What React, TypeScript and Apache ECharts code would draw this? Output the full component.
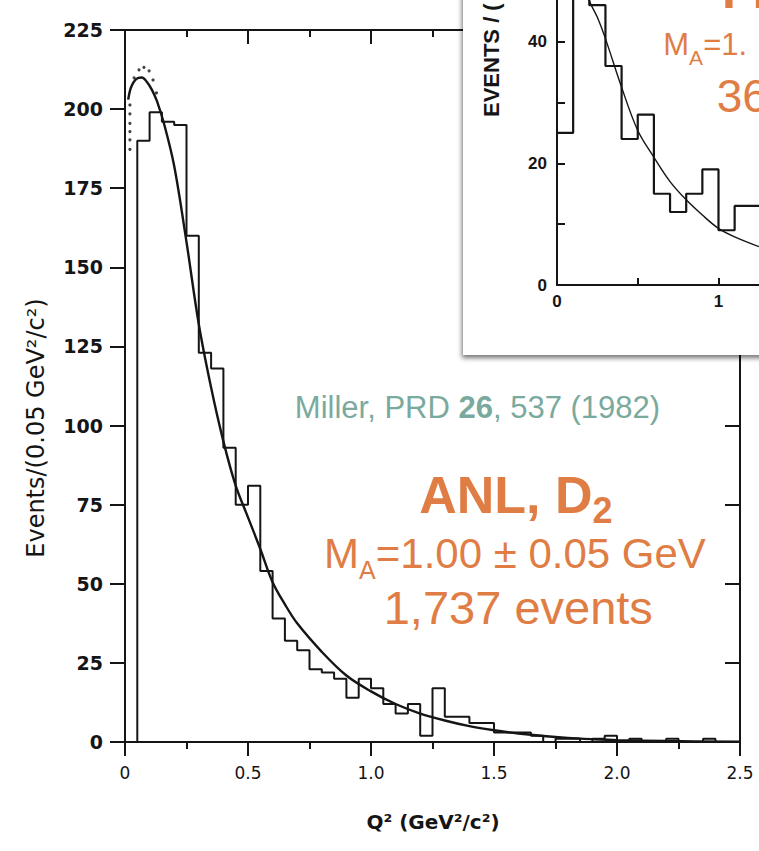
import React, { useEffect, useRef } from "react";
import * as echarts from "echarts";

// ---------- Main histogram (ANL, D2) ----------
const BIN_WIDTH = 0.05; // GeV^2 per bin
// events per bin, bins starting at 0.00, 0.05, 0.10 ... 2.45
const mainCounts = [
  0, 190, 199, 196, 195, 160, 123, 118, 93, 75,
  81, 54, 39, 32, 29, 23, 22, 20, 14, 20,
  17, 12, 9, 12, 2, 17, 8, 8, 6, 6,
  3, 3, 3, 2, 0, 1, 1, 0, 1, 2,
  0, 1, 0, 0, 1, 0, 0, 1, 0, 0,
];
// fitted curve: [Q2, events]
const mainCurve: [number, number][] = [
  [0.013, 203], [0.025, 207], [0.045, 209.5], [0.068, 210], [0.09, 208.5],
  [0.11, 206], [0.13, 202.5], [0.16, 195], [0.2, 182], [0.25, 158],
  [0.3, 132], [0.35, 112], [0.4, 95], [0.45, 81], [0.5, 71],
  [0.55, 61], [0.6, 50.5], [0.65, 43.5], [0.7, 37.5], [0.8, 28.5],
  [0.9, 21], [1.0, 16], [1.1, 12], [1.2, 9], [1.3, 6.8],
  [1.4, 5], [1.5, 3.7], [1.6, 2.7], [1.7, 1.9], [1.8, 1.3],
  [1.9, 0.9], [2.0, 0.6], [2.2, 0.3], [2.5, 0.1],
];
// dotted curve (dots) near the peak
const dottedCurve: [number, number][] = [
  [0.02, 187.3], [0.02, 190.3], [0.02, 192.9], [0.02, 195.5], [0.02, 198.5],
  [0.02, 201.3], [0.037, 209.9], [0.057, 212.4], [0.077, 213.2], [0.098, 212.1],
  [0.114, 209.2], [0.128, 205.1],
];
const xTickLabels = ["0", "0.5", "1.0", "1.5", "2.0", "2.5"];
const yTickLabels = ["0", "25", "50", "75", "100", "125", "150", "175", "200", "225"];

// ---------- Inset histogram (FNAL, D2) ----------
const INSET_BIN_WIDTH = 0.1;
const insetCounts = [25, 56, 46, 36, 24, 28, 15, 12, 15, 19, 9, 13, 13];
const insetCurve: [number, number][] = [
  [0.18, 49.5], [0.196, 47], [0.25, 44], [0.3, 40.5], [0.4, 32.5],
  [0.5, 25.4], [0.6, 21], [0.7, 17], [0.8, 14], [0.9, 11.5],
  [1.0, 9.3], [1.1, 7.9], [1.25, 6.3],
];
// only the labels that fall inside the picture
const insetXTickLabels = ["0", "1"];
const insetYTickLabels = ["0", "20", "40"];

const INK = "#151515";
const ORANGE = "#E07D45";
const TEAL = "#79AA9D";
const SANS = '"Liberation Sans", Arial, sans-serif';

function stepData(counts: number[], width: number): [number, number][] {
  const pts: [number, number][] = counts.map((c, i) => [+(i * width).toFixed(4), c]);
  pts.push([+(counts.length * width).toFixed(4), 0]);
  return pts;
}

let measureCtx: CanvasRenderingContext2D | null = null;
function measure(text: string, font: string): number {
  if (!measureCtx) measureCtx = document.createElement("canvas").getContext("2d");
  if (!measureCtx) return text.length * 10;
  measureCtx.font = font;
  return measureCtx.measureText(text).width;
}

type Seg = { text: string; size: number; bold?: boolean; dy?: number };
// build text pieces on one baseline; centre (cx) or left aligned (left)
function textLine(segs: Seg[], baseline: number, color: string, opts: { cx?: number; left?: number }) {
  const widths = segs.map((s) => measure(s.text, `${s.bold ? "bold" : "normal"} ${s.size}px ${SANS}`));
  const total = widths.reduce((a, b) => a + b, 0);
  let x = opts.left !== undefined ? opts.left : (opts.cx as number) - total / 2;
  const els: any[] = [];
  segs.forEach((s, i) => {
    els.push({
      type: "text",
      z: 20,
      x,
      y: baseline + (s.dy || 0) - 0.3465 * s.size,
      style: {
        text: s.text,
        fill: color,
        font: `${s.bold ? "bold" : "normal"} ${s.size}px ${SANS}`,
        align: "left",
        verticalAlign: "middle",
      },
    });
    x += widths[i];
  });
  return els;
}

export default function App() {
  const ref = useRef<HTMLDivElement>(null);

  useEffect(() => {
    if (!ref.current) return;
    const chart = echarts.init(ref.current, undefined, { renderer: "svg" });

    const axisLine = { show: true, onZero: false, lineStyle: { color: INK, width: 2 } };
    const tickStyle = { color: INK, width: 2 };

    const graphicElements: any[] = [
      // inset panel
      {
        type: "rect",
        z: 1,
        shape: { x: 463, y: -20, width: 330, height: 375 },
        style: {
          fill: "#ffffff",
          shadowBlur: 5,
          shadowColor: "rgba(0,0,0,0.55)",
          shadowOffsetX: -1,
          shadowOffsetY: 3,
        },
      },
      // main y-axis title
      {
        type: "text",
        z: 20,
        x: 36,
        y: 428,
        rotation: Math.PI / 2,
        style: {
          text: "Events/(0.05 GeV²/c²)",
          fill: INK,
          font: 'normal 24px "DejaVu Sans", sans-serif',
          align: "center",
          verticalAlign: "middle",
        },
      },
      // main x-axis title
      {
        type: "text",
        z: 20,
        x: 433,
        y: 822,
        style: {
          text: "Q² (GeV²/c²)",
          fill: INK,
          font: 'bold 20px "DejaVu Sans", sans-serif',
          align: "center",
          verticalAlign: "middle",
        },
      },
      // inset y-axis title (runs off the top, as in the picture)
      {
        type: "text",
        z: 20,
        x: 491,
        y: 117,
        rotation: Math.PI / 2,
        style: {
          text: "EVENTS / (",
          fill: INK,
          font: `bold 22px "Liberation Sans Narrow", ${SANS}`,
          align: "left",
          verticalAlign: "middle",
        },
      },
      ...textLine(
        [
          { text: "Miller, PRD ", size: 31 },
          { text: "26", size: 31, bold: true },
          { text: ", 537 (1982)", size: 31 },
        ],
        418.3,
        TEAL,
        { cx: 477.5 }
      ),
      ...textLine(
        [
          { text: "ANL, D", size: 52, bold: true },
          { text: "2", size: 36, bold: true, dy: 9.5 },
        ],
        513.3,
        ORANGE,
        { cx: 515.8 }
      ),
      ...textLine(
        [
          { text: "M", size: 42 },
          { text: "A", size: 25, dy: 10.6 },
          { text: "=1.00 ± 0.05 GeV", size: 42 },
        ],
        568.5,
        ORANGE,
        { cx: 515 }
      ),
      ...textLine([{ text: "1,737 events", size: 47 }], 623.8, ORANGE, { cx: 518.3 }),
      // inset annotations (only the part inside the picture is visible)
      ...textLine(
        [
          { text: "FNAL, D", size: 50, bold: true },
          { text: "2", size: 35, bold: true, dy: 13 },
        ],
        8,
        ORANGE,
        { left: 722 }
      ),
      ...textLine(
        [
          { text: "M", size: 31 },
          { text: "A", size: 21, dy: 10 },
          { text: "=1.", size: 31 },
        ],
        55,
        ORANGE,
        { left: 663.3 }
      ),
      ...textLine([{ text: "36", size: 46 }], 111.7, ORANGE, { left: 716.7 }),
    ];

    const option: any = {
      animation: false,
      backgroundColor: "#ffffff",
      grid: [
        { left: 125, right: 19, top: 30, bottom: 109, outerBoundsMode: "none", containLabel: false },
        { left: 557, right: -121, top: -80, bottom: 566, outerBoundsMode: "none", containLabel: false },
      ],
      xAxis: [
        {
          gridIndex: 0,
          type: "value",
          min: 0,
          max: 2.5,
          interval: 0.5,
          position: "bottom",
          axisLine,
          axisTick: { show: true, inside: false, length: 14, lineStyle: tickStyle },
          minorTick: { show: true, splitNumber: 2, length: 7, lineStyle: tickStyle },
          splitLine: { show: false },
          axisLabel: {
            margin: 22,
            color: INK,
            fontSize: 17,
            fontFamily: '"DejaVu Sans", sans-serif',
            formatter: (v: number) => xTickLabels[Math.round(v / 0.5)] ?? "",
          },
        },
        {
          gridIndex: 0,
          type: "value",
          min: 0,
          max: 2.5,
          interval: 0.5,
          position: "top",
          axisLine,
          axisTick: { show: true, inside: true, length: 14, lineStyle: tickStyle },
          minorTick: { show: true, splitNumber: 2, length: 7, lineStyle: tickStyle },
          splitLine: { show: false },
          axisLabel: { show: false },
        },
        {
          gridIndex: 1,
          type: "value",
          z: 3,
          min: 0,
          max: 2,
          interval: 1,
          position: "bottom",
          axisLine,
          axisTick: { show: true, inside: true, length: 7, lineStyle: tickStyle },
          minorTick: { show: true, splitNumber: 2, length: 7, lineStyle: tickStyle },
          splitLine: { show: false },
          axisLabel: {
            margin: 8,
            color: INK,
            fontSize: 17,
            fontWeight: "bold",
            fontFamily: '"Liberation Sans Narrow", "Liberation Sans", sans-serif',
            formatter: (v: number) => insetXTickLabels[Math.round(v)] ?? "",
          },
        },
      ],
      yAxis: [
        {
          gridIndex: 0,
          type: "value",
          min: 0,
          max: 225,
          interval: 25,
          position: "left",
          axisLine,
          axisTick: { show: true, inside: false, length: 15, lineStyle: tickStyle },
          splitLine: { show: false },
          axisLabel: {
            margin: 22,
            color: INK,
            fontSize: 19,
            fontWeight: "bold",
            fontFamily: '"DejaVu Sans", sans-serif',
            formatter: (v: number) => yTickLabels[Math.round(v / 25)] ?? "",
          },
        },
        {
          gridIndex: 0,
          type: "value",
          min: 0,
          max: 225,
          interval: 25,
          position: "right",
          axisLine,
          axisTick: { show: true, inside: true, length: 15, lineStyle: tickStyle },
          splitLine: { show: false },
          axisLabel: { show: false },
        },
        {
          gridIndex: 1,
          type: "value",
          z: 3,
          min: 0,
          max: 60,
          interval: 20,
          position: "left",
          axisLine,
          axisTick: { show: true, inside: true, length: 8, lineStyle: tickStyle },
          minorTick: { show: true, splitNumber: 2, length: 8, lineStyle: tickStyle },
          splitLine: { show: false },
          axisLabel: {
            margin: 10,
            color: INK,
            fontSize: 17,
            fontWeight: "bold",
            fontFamily: '"Liberation Sans Narrow", "Liberation Sans", sans-serif',
            formatter: (v: number) => insetYTickLabels[Math.round(v / 20)] ?? "",
          },
        },
      ],
      series: [
        {
          name: "ANL data",
          type: "line",
          xAxisIndex: 0,
          yAxisIndex: 0,
          step: "end",
          data: stepData(mainCounts, BIN_WIDTH),
          symbol: "none",
          lineStyle: { color: INK, width: 2 },
          z: 2,
        },
        {
          name: "fit",
          type: "line",
          xAxisIndex: 0,
          yAxisIndex: 0,
          smooth: 0.35,
          data: mainCurve,
          symbol: "none",
          lineStyle: { color: INK, width: 2.4 },
          z: 2,
        },
        {
          name: "dotted",
          type: "scatter",
          xAxisIndex: 0,
          yAxisIndex: 0,
          data: dottedCurve,
          symbol: "circle",
          symbolSize: 3.2,
          itemStyle: { color: INK },
          z: 2,
        },
        {
          name: "FNAL data",
          type: "line",
          xAxisIndex: 2,
          yAxisIndex: 2,
          step: "end",
          data: stepData(insetCounts, INSET_BIN_WIDTH),
          symbol: "none",
          clip: false,
          lineStyle: { color: INK, width: 2.2 },
          z: 4,
        },
        {
          name: "FNAL fit",
          type: "line",
          xAxisIndex: 2,
          yAxisIndex: 2,
          smooth: 0.35,
          data: insetCurve,
          symbol: "none",
          clip: false,
          lineStyle: { color: INK, width: 1.4 },
          z: 4,
        },
      ],
      graphic: { elements: graphicElements },
    };

    chart.setOption(option);
    return () => chart.dispose();
  }, []);

  return (
    <div
      ref={ref}
      style={{ position: "absolute", left: 0, top: 0, width: 759, height: 851, background: "#fff" }}
    />
  );
}
